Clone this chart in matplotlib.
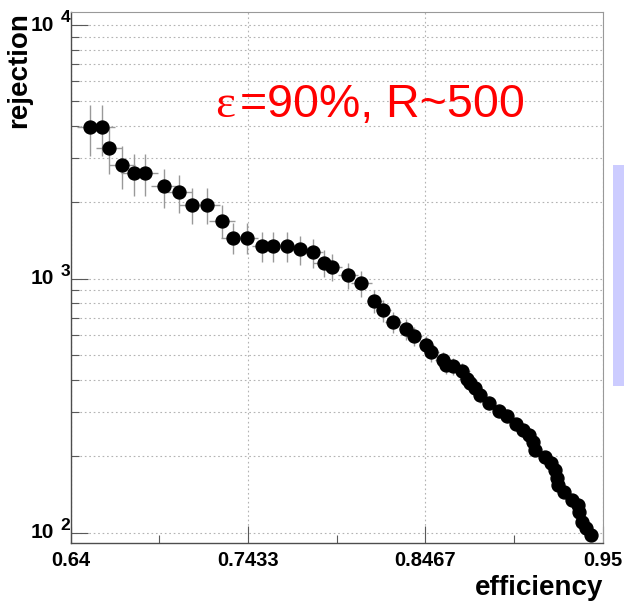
import matplotlib
matplotlib.use("Agg")
import matplotlib.pyplot as plt
from matplotlib.patches import Rectangle
from matplotlib.ticker import FixedLocator, NullFormatter
from matplotlib.transforms import blended_transform_factory, offset_copy

plt.rcParams['font.family'] = ['Liberation Sans', 'DejaVu Sans']

# rejection vs efficiency
efficiency = [0.6512, 0.6584, 0.6625, 0.6697, 0.6769, 0.6831, 0.6944, 0.7033,
              0.7107, 0.7194, 0.7283, 0.7348, 0.7429, 0.7515, 0.7581, 0.7662,
              0.7736, 0.7810, 0.7874, 0.7923, 0.8016, 0.8093, 0.8170, 0.8222,
              0.8278, 0.8356, 0.8400, 0.8472, 0.8501, 0.8568, 0.8587, 0.8629,
              0.8680, 0.8707, 0.8727, 0.8756, 0.8785, 0.8836, 0.8897, 0.8941,
              0.8995, 0.9034, 0.9072, 0.9096, 0.9106, 0.9164, 0.9197, 0.9222,
              0.9232, 0.9241, 0.9274, 0.9319, 0.9358, 0.9364, 0.9377, 0.9403,
              0.9430]
rejection = [3948, 3948, 3275, 2808, 2610, 2610, 2311, 2189,
             1957, 1957, 1697, 1451, 1451, 1345, 1345, 1345,
             1305, 1270, 1156, 1118, 1034, 960, 817, 751,
             677, 634, 595, 548, 514, 479, 458, 452,
             433, 404, 388, 371, 349, 325, 302, 288,
             268, 254, 243, 228, 212, 198, 188, 177,
             164, 154, 144, 135, 129, 121, 110.5, 104,
             98]
rejection_err = [910, 910, 685, 543, 487, 487, 406, 374,
                 316, 316, 255, 202, 202, 180, 180, 180,
                 172, 165, 144, 136, 121, 109, 85, 75,
                 64, 58, 53, 47, 43, 38, 36, 35,
                 33, 30, 28, 26, 24, 21, 19, 18,
                 16, 15, 14, 13, 11, 10, 9.4, 8.6,
                 7.7, 7.0, 6.3, 5.7, 5.3, 4.9, 4.2, 3.9,
                 3.5]
efficiency_err = [0.0075] * 12 + [0.006] * 10 + [0.0045] * 13 + [0.0035] * 22

xticks = [0.64, 0.7433, 0.8467, 0.95]
xtick_labels = ['0.64', '0.7433', '0.8467', '0.95']
yticks = [1e2, 1e3, 1e4]
ytick_exponents = ['2', '3', '4']

fig = plt.figure(figsize=(6.24, 6.01), dpi=100)
ax = fig.add_axes([0.1133, 0.0965, 0.8526, 0.8835])

ax.errorbar(efficiency, rejection, xerr=efficiency_err, yerr=rejection_err,
            fmt='none', ecolor='0.6', elinewidth=1.0, zorder=2)
ax.plot(efficiency, rejection, 'o', color='black', markersize=9.3, zorder=3)

ax.set_yscale('log')
ax.set_xlim(0.64, 0.95)
ax.set_ylim(91, 11250)

ax.set_xticks(xticks)
ax.set_xticklabels(xtick_labels, fontsize=14.5, fontweight='bold')
ax.xaxis.set_minor_locator(FixedLocator([0.6917, 0.795, 0.8983]))
ax.set_yticks(yticks)
ax.set_yticklabels([''] * len(yticks))
ax.yaxis.set_minor_locator(FixedLocator([m * 10 ** e for e in (2, 3) for m in range(2, 10)]))
ax.yaxis.set_minor_formatter(NullFormatter())

# ROOT style "10 ^n" labels: base centred on the gridline, exponent raised
ylab = blended_transform_factory(ax.transAxes, ax.transData)
for val, ex in zip(yticks, ytick_exponents):
    ax.text(-0.031, val, '10', transform=ylab, ha='right', va='center',
            fontsize=15, fontweight='bold', clip_on=False)
    ax.text(-0.001, val, ex, transform=offset_copy(ylab, fig=fig, x=0, y=0, units='dots'),
            ha='right', va='bottom', fontsize=12.5, fontweight='bold', clip_on=False)

ax.tick_params(which='major', direction='in', length=12, width=0.8, color='0.35',
               top=False, right=False)
ax.tick_params(which='minor', direction='in', length=6, width=0.8, color='0.35',
               top=False, right=False)
ax.tick_params(axis='x', pad=6)

ax.grid(True, which='both', axis='y', linestyle=(0, (1.5, 2.5)), color='0.7', linewidth=0.8)
ax.grid(True, which='major', axis='x', linestyle=(0, (1.5, 2.5)), color='0.7', linewidth=0.8)
ax.set_axisbelow(True)

for side in ['left', 'bottom']:
    ax.spines[side].set_color('0.3')
    ax.spines[side].set_linewidth(1.0)
for side in ['right', 'top']:
    ax.spines[side].set_color('0.6')
    ax.spines[side].set_linewidth(0.8)

fig.text(19.5 / 624, 1 - 12 / 601, 'rejection', rotation=90, ha='center', va='top',
         fontsize=20, fontweight='bold')
fig.text(603 / 624, 1 - 595 / 601, 'efficiency', ha='right', va='baseline',
         fontsize=20, fontweight='bold')

fig.text(215 / 624, 1 - 117 / 601, 'ε', color='red', fontsize=34,
         family='Liberation Serif', ha='left', va='baseline')
fig.text(240 / 624, 1 - 117 / 601, '=90%, R~500', color='red', fontsize=33.5,
         ha='left', va='baseline')

fig.patches.append(Rectangle((613 / 624, 1 - 386 / 601), 20 / 624, 221 / 601,
                             transform=fig.transFigure, facecolor='#CCCCFF',
                             edgecolor='none'))

fig.savefig('out.png', dpi=100)
